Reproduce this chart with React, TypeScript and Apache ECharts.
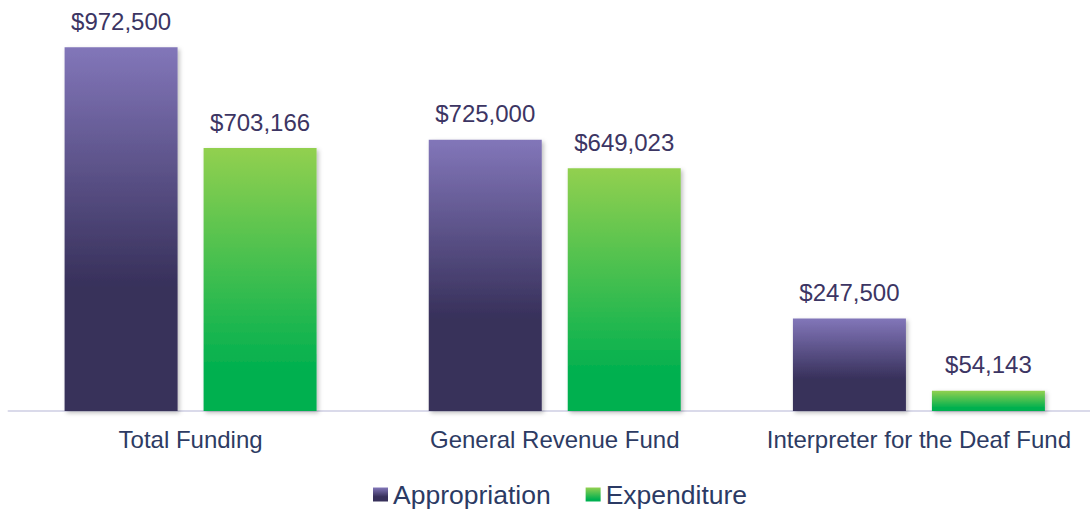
import React, { useEffect, useRef } from "react";
import * as echarts from "echarts";

const categories = ["Total Funding", "General Revenue Fund", "Interpreter for the Deaf Fund"];
const appropriation = [972500, 725000, 247500];
const expenditure = [703166, 649023, 54143];
const seriesNames = ["Appropriation", "Expenditure"];

const fmt = (v: number) => "$" + v.toLocaleString("en-US");

export default function App() {
  const ref = useRef<HTMLDivElement>(null);
  useEffect(() => {
    if (!ref.current) return;
    const chart = echarts.init(ref.current, null, { renderer: "svg" });
    const font = "'Liberation Sans', Arial, sans-serif";
    const purple = new echarts.graphic.LinearGradient(0, 0, 0, 1, [
      { offset: 0, color: "#8276b9" },
      { offset: 0.66, color: "#37305a" },
      { offset: 1, color: "#37305a" },
    ]);
    const green = new echarts.graphic.LinearGradient(0, 0, 0, 1, [
      { offset: 0, color: "#92d050" },
      { offset: 0.85, color: "#00b050" },
      { offset: 1, color: "#00b050" },
    ]);
    const shadow = {
      shadowBlur: 4,
      shadowColor: "rgba(0,0,0,0.25)",
      shadowOffsetX: 2,
      shadowOffsetY: 2,
    };
    const label = {
      show: true,
      position: "top",
      distance: 14,
      color: "#3c3563",
      fontSize: 24,
      fontFamily: font,
      formatter: (p: any) => fmt(p.value),
    };
    chart.setOption({
      animation: false,
      grid: { left: 8.5, right: 0, top: 37, bottom: 98 },
      legend: {
        left: 368,
        top: 476,
        itemWidth: 15,
        itemHeight: 14,
        itemGap: 35,
        icon: "rect",
        textStyle: { color: "#2b3a64", fontSize: 26.5, fontFamily: font },
        data: seriesNames,
      },
      xAxis: {
        type: "category",
        data: categories,
        axisTick: { show: false },
        axisLine: { lineStyle: { color: "#dadaea", width: 2 } },
        axisLabel: { color: "#2d3b63", fontSize: 24, fontFamily: font, margin: 16, interval: 0 },
      },
      yAxis: {
        type: "value",
        min: 0,
        max: 1000000,
        show: false,
        splitLine: { show: false },
      },
      series: [
        {
          name: seriesNames[0],
          type: "bar",
          data: appropriation,
          barWidth: 113,
          barGap: "23%",
          itemStyle: { color: purple, ...shadow },
          label,
        },
        {
          name: seriesNames[1],
          type: "bar",
          data: expenditure,
          barWidth: 113,
          barGap: "23%",
          itemStyle: { color: green, ...shadow },
          label,
        },
      ],
    });
    return () => chart.dispose();
  }, []);
  return (
    <div
      style={{ position: "absolute", left: 0, top: 0, width: 1090, height: 509, overflow: "hidden", background: "#fff" }}
    >
      <div ref={ref} style={{ width: 1101, height: 509 }} />
    </div>
  );
}
